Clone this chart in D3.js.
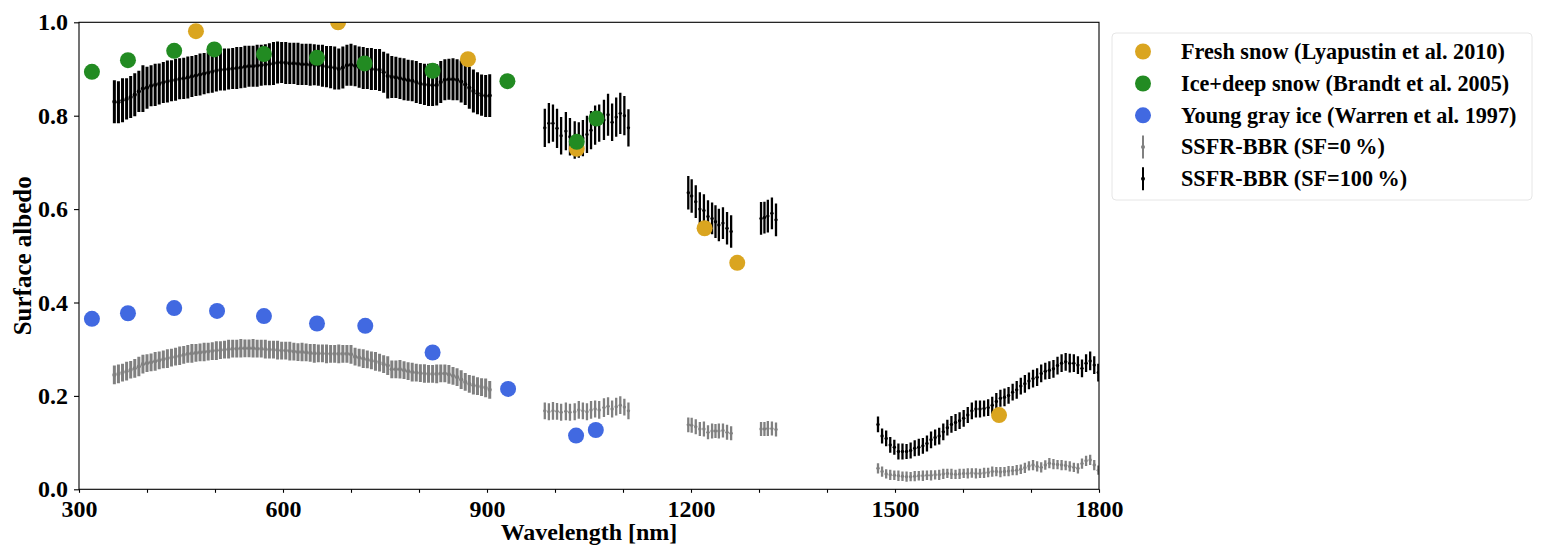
<!DOCTYPE html>
<html>
<head>
<meta charset="utf-8">
<script src="https://cdn.jsdelivr.net/npm/d3@7"></script>
<style>
  html, body { margin: 0; padding: 0; background: #fff; }
  svg { display: block; }
  text { font-family: "Liberation Serif", "Times New Roman", serif; font-weight: bold; }
</style>
</head>
<body>
<svg id="chart" width="1546" height="560"></svg>
<script>
// ---------------- DATA ----------------
const xTicks = [300, 400, 500, 600, 700, 800, 900, 1000, 1100, 1200, 1300, 1400, 1500, 1600, 1700, 1800];
const xTickLabels = [300, 600, 900, 1200, 1500, 1800];
const yTicks = [0.0, 0.2, 0.4, 0.6, 0.8, 1.0];

// SSFR-BBR wavelengths [nm]
const wavelength = [
  352,358,364,370,376,382,388,394,400,406,412,418,424,430,436,442,448,454,460,466,
  472,478,484,490,496,502,508,514,520,526,532,538,544,550,556,562,568,574,580,586,
  592,598,604,610,616,622,628,634,640,646,652,658,664,670,676,682,688,694,700,706,
  712,718,724,730,736,742,748,754,760,766,772,778,784,790,796,802,808,814,820,826,
  832,838,844,850,856,862,868,874,880,886,892,898,904,
  985,991,997,1003,1009,1016,1022,1029,1035,1041,1047,1053,1059,1065,1072,1078,1084,1090,1096,1102,1108,
  1196,1201,1207,1213,1219,1225,1231,1236,1241,1247,1253,1259,
  1303,1308,1313,1319,1325,
  1475,1481,1487,1493,1499,1505,1511,1517,1523,1529,1535,1541,1547,1553,1559,1565,1571,1577,1583,1589,
  1595,1601,1607,1613,1619,1625,1631,1637,1643,1649,1655,1661,1667,1673,1679,1685,1691,1697,1703,1709,
  1715,1721,1727,1733,1739,1745,1751,1757,1763,1769,1775,1781,1787,1793,1799
];

// SSFR-BBR (SF=100 %)
const albedoSF100 = [
  .830,.829,.833,.836,.840,.845,.852,.858,.860,.864,.866,.868,.871,.873,.875,.877,.879,.880,.882,.884,
  .886,.888,.890,.892,.894,.896,.898,.899,.900,.901,.902,.903,.905,.906,.906,.907,.908,.909,.910,.912,
  .914,.914,.913,.912,.912,.911,.910,.910,.909,.909,.908,.907,.905,.904,.902,.900,.903,.908,.909,.907,
  .904,.902,.901,.900,.899,.898,.893,.885,.883,.882,.880,.878,.876,.875,.872,.869,.867,.866,.865,.866,
  .872,.877,.878,.878,.877,.873,.867,.860,.853,.848,.844,.842,.843,
  .774,.784,.784,.773,.757,.767,.755,.748,.748,.752,.760,.769,.780,.784,.791,.802,.786,.797,.805,.800,.774,
  .635,.628,.616,.600,.597,.584,.580,.573,.566,.570,.559,.552,
  .580,.582,.585,.591,.577,
  .139,.114,.109,.095,.090,.081,.081,.081,.083,.088,.090,.093,.098,.106,.111,.114,.123,.132,.139,.143,
  .147,.152,.159,.168,.172,.172,.173,.175,.180,.188,.195,.197,.201,.208,.213,.221,.226,.232,.237,.240,
  .248,.253,.255,.258,.265,.270,.273,.270,.270,.266,.259,.270,.275,.266,.250
];
const errSF100 = [
  .046,.045,.047,.044,.045,.046,.044,.050,.045,.044,.045,.044,.044,.045,.044,.045,.044,.044,.045,.044,
  .044,.045,.044,.044,.045,.044,.044,.045,.044,.044,.045,.044,.045,.044,.044,.045,.044,.044,.045,.046,
  .045,.044,.045,.044,.044,.045,.044,.044,.045,.044,.044,.045,.044,.045,.046,.044,.045,.044,.045,.044,
  .044,.045,.044,.045,.044,.045,.044,.048,.045,.044,.044,.045,.044,.044,.045,.044,.044,.045,.044,.044,
  .045,.044,.044,.045,.044,.045,.044,.045,.046,.045,.044,.045,.046,
  .041,.043,.040,.042,.040,.041,.040,.040,.038,.039,.040,.041,.042,.040,.043,.045,.040,.042,.044,.042,.040,
  .036,.036,.035,.036,.035,.035,.034,.035,.035,.034,.035,.035,
  .035,.034,.035,.034,.035,
  .017,.016,.017,.017,.016,.017,.017,.016,.017,.017,.018,.017,.017,.018,.017,.018,.018,.017,.018,.018,
  .018,.018,.017,.018,.018,.018,.017,.018,.018,.018,.018,.019,.018,.018,.019,.018,.019,.018,.019,.019,
  .019,.018,.019,.019,.019,.019,.019,.020,.019,.019,.019,.019,.020,.019,.019
];

// SSFR-BBR (SF=0 %)
const albedoSF0 = [
  .245,.247,.250,.253,.256,.259,.263,.268,.270,.272,.274,.276,.278,.280,.282,.284,.286,.288,.290,.291,
  .292,.293,.294,.295,.296,.297,.298,.299,.300,.301,.301,.302,.302,.302,.302,.301,.301,.300,.299,.299,
  .298,.297,.297,.296,.295,.294,.294,.293,.292,.291,.291,.291,.290,.290,.290,.290,.290,.290,.289,.284,
  .282,.280,.278,.276,.274,.271,.268,.265,.257,.257,.257,.255,.253,.251,.250,.249,.248,.247,.247,.247,
  .248,.248,.246,.243,.240,.235,.230,.226,.223,.221,.219,.217,.213,
  .168,.166,.168,.167,.165,.167,.165,.166,.170,.168,.166,.170,.172,.170,.175,.178,.172,.177,.180,.176,.168,
  .138,.137,.134,.129,.129,.122,.125,.125,.125,.126,.122,.120,
  .129,.129,.130,.130,.128,
  .045,.038,.033,.031,.030,.029,.028,.027,.027,.028,.029,.029,.030,.030,.031,.031,.033,.034,.033,.032,
  .033,.034,.034,.035,.034,.034,.035,.036,.038,.038,.037,.038,.039,.040,.041,.043,.046,.050,.052,.049,
  .047,.052,.056,.054,.053,.052,.051,.049,.047,.045,.055,.061,.063,.052,.041
];
const errSF0 = [
  .020,.020,.019,.020,.019,.020,.021,.020,.019,.019,.020,.019,.019,.020,.019,.019,.020,.019,.019,.020,
  .019,.019,.020,.019,.019,.020,.019,.019,.020,.019,.019,.020,.019,.019,.020,.019,.019,.020,.019,.019,
  .020,.019,.019,.020,.019,.019,.020,.019,.019,.020,.019,.019,.020,.019,.019,.020,.019,.019,.020,.019,
  .019,.020,.019,.019,.020,.019,.019,.020,.019,.019,.020,.019,.019,.020,.019,.019,.020,.019,.019,.020,
  .019,.019,.020,.019,.019,.020,.019,.019,.020,.019,.019,.020,.019,
  .018,.018,.019,.018,.018,.019,.018,.018,.019,.018,.018,.019,.018,.019,.020,.019,.018,.019,.019,.018,.018,
  .016,.016,.016,.015,.016,.015,.016,.015,.016,.015,.016,.015,
  .015,.015,.016,.015,.015,
  .011,.011,.010,.011,.010,.011,.010,.011,.010,.011,.010,.011,.010,.011,.010,.011,.011,.010,.011,.010,
  .011,.010,.011,.010,.011,.010,.011,.010,.011,.010,.011,.010,.011,.010,.011,.010,.011,.010,.011,.011,
  .011,.010,.011,.011,.010,.011,.010,.011,.010,.011,.011,.011,.011,.011,.010
];

// Reference spectra
const freshSnowWl = [472, 681, 872, 1032, 1220, 1268, 1653];
const freshSnowAlb = [0.981, 1.000, 0.921, 0.729, 0.559, 0.485, 0.159];
const iceSnowWl = [319, 372, 440, 499, 572, 650, 720, 820, 930, 1032, 1061];
const iceSnowAlb = [0.894, 0.919, 0.939, 0.942, 0.932, 0.924, 0.912, 0.896, 0.874, 0.744, 0.794];
const grayIceWl = [319, 372, 440, 503, 572, 650, 721, 820, 931, 1031, 1060];
const grayIceAlb = [0.365, 0.377, 0.388, 0.382, 0.371, 0.355, 0.350, 0.293, 0.215, 0.115, 0.127];

const legendLabels = [
  "Fresh snow (Lyapustin et al. 2010)",
  "Ice+deep snow (Brandt et al. 2005)",
  "Young gray ice (Warren et al. 1997)",
  "SSFR-BBR (SF=0\u2009%)",
  "SSFR-BBR (SF=100\u2009%)"
];

// ---------------- DRAW ----------------
const svg = d3.select("#chart");
const pLeft = 79, pRight = 1099, pTop = 22.3, pBottom = 489.3;
const x = d3.scaleLinear().domain([300, 1800]).range([pLeft, pRight]);
const y = d3.scaleLinear().domain([0, 1]).range([pBottom, pTop]);

svg.append("defs").append("clipPath").attr("id", "clip")
  .append("rect").attr("x", pLeft).attr("y", pTop).attr("width", pRight - pLeft).attr("height", pBottom - pTop);

const plot = svg.append("g").attr("clip-path", "url(#clip)");

const ssfr = wavelength.map((w, i) => ({ w, v100: albedoSF100[i], e100: errSF100[i], v0: albedoSF0[i], e0: errSF0[i] }));

function errorbars(key, ekey, color) {
  const g = plot.append("g");
  g.selectAll("line").data(ssfr).join("line")
    .attr("x1", d => x(d.w)).attr("x2", d => x(d.w))
    .attr("y1", d => y(d[key] - d[ekey])).attr("y2", d => y(d[key] + d[ekey]))
    .attr("stroke", color).attr("stroke-width", d => d.w < 950 ? 3 : 2.3);
  g.selectAll("circle").data(ssfr).join("circle")
    .attr("cx", d => x(d.w)).attr("cy", d => y(d[key]))
    .attr("r", d => d.w < 950 ? 2.1 : 1.7).attr("fill", color);
}
errorbars("v0", "e0", "#808080");
errorbars("v100", "e100", "#000000");

function scatter(wl, alb, color) {
  plot.append("g").selectAll("circle").data(wl.map((w, i) => [w, alb[i]])).join("circle")
    .attr("cx", d => x(d[0])).attr("cy", d => y(d[1]))
    .attr("r", 8).attr("fill", color);
}
scatter(freshSnowWl, freshSnowAlb, "#DAA520");
scatter(iceSnowWl, iceSnowAlb, "#228B22");
scatter(grayIceWl, grayIceAlb, "#4169E1");

// Axes
const xAxis = d3.axisBottom(x).tickValues(xTicks).tickSize(3.5).tickSizeOuter(0).tickPadding(7)
  .tickFormat(d => xTickLabels.includes(d) ? d : "");
const yAxis = d3.axisLeft(y).tickValues(yTicks).tickSize(5).tickSizeOuter(0).tickPadding(6)
  .tickFormat(d3.format(".1f"));

const gx = svg.append("g").attr("transform", `translate(0,${pBottom})`).call(xAxis);
const gy = svg.append("g").attr("transform", `translate(${pLeft},0)`).call(yAxis);
[gx, gy].forEach(g => {
  g.selectAll("text").attr("font-size", 24).attr("fill", "#000")
    .style("font-family", '"Liberation Serif", "Times New Roman", serif').style("font-weight", "bold");
  g.selectAll("line").attr("stroke", "#000").attr("stroke-width", 1.1);
  g.select(".domain").remove();
});

// Frame (spines)
svg.append("rect").attr("x", pLeft).attr("y", pTop).attr("width", pRight - pLeft).attr("height", pBottom - pTop)
  .attr("fill", "none").attr("stroke", "#000").attr("stroke-width", 1.1);

// Axis titles
svg.append("text").attr("x", (pLeft + pRight) / 2).attr("y", 540).attr("text-anchor", "middle")
  .attr("font-size", 24).text("Wavelength [nm]");
svg.append("text").attr("transform", `translate(31,${(pTop + pBottom) / 2}) rotate(-90)`)
  .attr("text-anchor", "middle").attr("font-size", 25).text("Surface albedo");

// Legend
const lg = svg.append("g");
lg.append("rect").attr("x", 1112).attr("y", 33).attr("width", 420).attr("height", 167)
  .attr("rx", 4).attr("fill", "#fff").attr("stroke", "#e6e6e6").attr("stroke-width", 1);
const rowY = [51.5, 83.5, 115.3, 147, 178.7];
const mx = 1143;
["#DAA520", "#228B22", "#4169E1"].forEach((c, i) => {
  lg.append("circle").attr("cx", mx).attr("cy", rowY[i]).attr("r", 8).attr("fill", c);
});
[["#808080", 3], ["#000000", 4]].forEach(([c, i]) => {
  lg.append("line").attr("x1", mx).attr("x2", mx).attr("y1", rowY[i] - 11.5).attr("y2", rowY[i] + 11.5)
    .attr("stroke", c).attr("stroke-width", 2);
  lg.append("circle").attr("cx", mx).attr("cy", rowY[i]).attr("r", 2).attr("fill", c);
});
legendLabels.forEach((t, i) => {
  lg.append("text").attr("x", 1181).attr("y", rowY[i] + 7.2).attr("font-size", 22.2).text(t);
});
</script>
</body>
</html>
